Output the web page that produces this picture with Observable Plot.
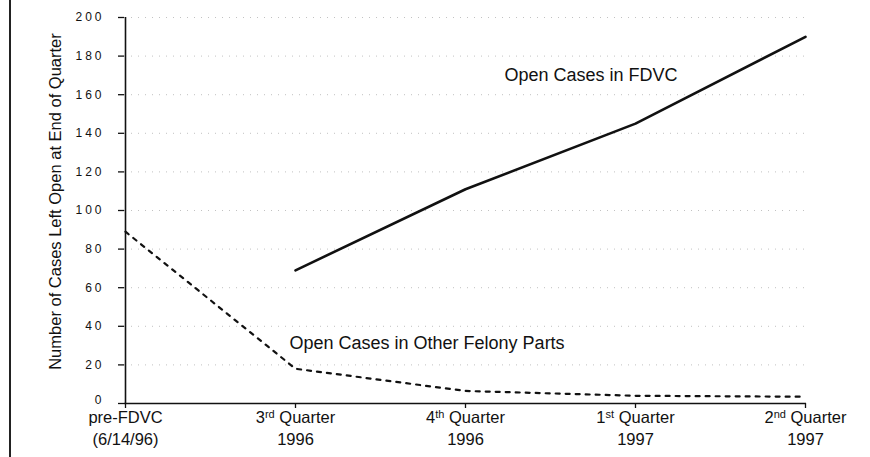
<!DOCTYPE html>
<html>
<head>
<meta charset="utf-8">
<script src="https://cdn.jsdelivr.net/npm/d3@7"></script>
<script src="https://cdn.jsdelivr.net/npm/@observablehq/plot@0.6"></script>
<style>
  body { margin: 0; background: #fff; }
  #wrap { position: relative; width: 870px; height: 457px; }
  #border { position: absolute; left: 9px; top: 0; width: 1.5px; height: 457px; background: #222; }
  g[aria-label="y-axis tick label"] text { letter-spacing: 3px; }
</style>
</head>
<body>
<div id="wrap"><div id="border"></div></div>
<script>
const categories = ["pre-FDVC", "3rd Quarter 1996", "4th Quarter 1996", "1st Quarter 1997", "2nd Quarter 1997"];
const tickTop = ["pre-FDVC", "3rd Quarter", "4th Quarter", "1st Quarter", "2nd Quarter"];
const tickBottom = ["(6/14/96)", "1996", "1996", "1997", "1997"];
const fdvcCats = ["3rd Quarter 1996", "4th Quarter 1996", "1st Quarter 1997", "2nd Quarter 1997"];
const fdvcValues = [69, 111, 145, 190];
const otherValues = [89, 18, 6.5, 4, 3.5];
const yTicks = [0, 20, 40, 60, 80, 100, 120, 140, 160, 180, 200];
const yLabel = "Number of Cases Left Open at End of Quarter";
const fdvcLabel = "Open Cases in FDVC";
const otherLabel = "Open Cases in Other Felony Parts";

const fdvc = fdvcCats.map((c, i) => ({cat: c, v: fdvcValues[i]}));
const other = categories.map((c, i) => ({cat: c, v: otherValues[i]}));
const tickText = new Map(categories.map((c, i) => [c, tickTop[i] + "\n" + tickBottom[i]]));

const chart = Plot.plot({
  width: 870,
  height: 457,
  marginLeft: 124,
  marginRight: 64,
  marginTop: 17,
  marginBottom: 54,
  style: {fontFamily: "'Liberation Sans', Arial, sans-serif", color: "#111", background: "transparent"},
  x: {type: "point", domain: categories, padding: 0},
  y: {domain: [0, 200]},
  marks: [
    Plot.gridY(yTicks.filter(d => d > 0), {stroke: "#777", strokeOpacity: 0.45, strokeDasharray: "1,6"}),
    Plot.axisY(yTicks, {tickSize: 6, tickPadding: 14, fontSize: 12, label: null, stroke: "#111", strokeWidth: 1.3}),
    Plot.axisX(categories, {tickSize: 5, tickPadding: -2, fontSize: 16.5, lineHeight: 1.38, label: null,
      tickFormat: d => tickText.get(d), stroke: "#111", strokeWidth: 1.3}),
    Plot.ruleY([0], {stroke: "#111", strokeWidth: 1.6}),
    Plot.ruleX([categories[0]], {stroke: "#111", strokeWidth: 1.6}),
    Plot.line(other, {x: "cat", y: "v", stroke: "#111", strokeWidth: 2.2, strokeDasharray: "4,6"}),
    Plot.line(fdvc, {x: "cat", y: "v", stroke: "#111", strokeWidth: 2.6}),
    Plot.text([fdvcLabel], {x: () => categories[2], y: () => 170, text: d => d, textAnchor: "start", dx: 39, fontSize: 18, fill: "#111"}),
    Plot.text([otherLabel], {x: () => categories[1], y: () => 31, text: d => d, textAnchor: "start", dx: -6, fontSize: 18, fill: "#111"}),
    Plot.text([yLabel], {frameAnchor: "left", textAnchor: "middle", rotate: -90, dx: -69, dy: -9, text: d => d, fontSize: 16.5, fill: "#111"})
  ]
});

document.getElementById("wrap").appendChild(chart);

// lift the "0" tick label slightly so it clears the first x label
d3.select(chart).selectAll('g[aria-label="y-axis tick label"] text').each(function() {
  if (this.textContent.trim() === "0") {
    const t = d3.select(this);
    const tr = t.attr("transform") || "";
    t.attr("transform", tr + " translate(0,-3)");
  }
});

// superscript ordinal suffixes in x tick labels
d3.select(chart).selectAll('g[aria-label="x-axis tick label"] text tspan').each(function() {
  const t = this.textContent;
  const m = t.match(/^(\d)(st|nd|rd|th)(.*)$/);
  if (m) {
    const el = d3.select(this);
    el.text(null);
    el.append("tspan").text(m[1]);
    el.append("tspan").attr("baseline-shift", "5").attr("font-size", "11").text(m[2]);
    el.append("tspan").text(m[3]);
  }
});
</script>
</body>
</html>
